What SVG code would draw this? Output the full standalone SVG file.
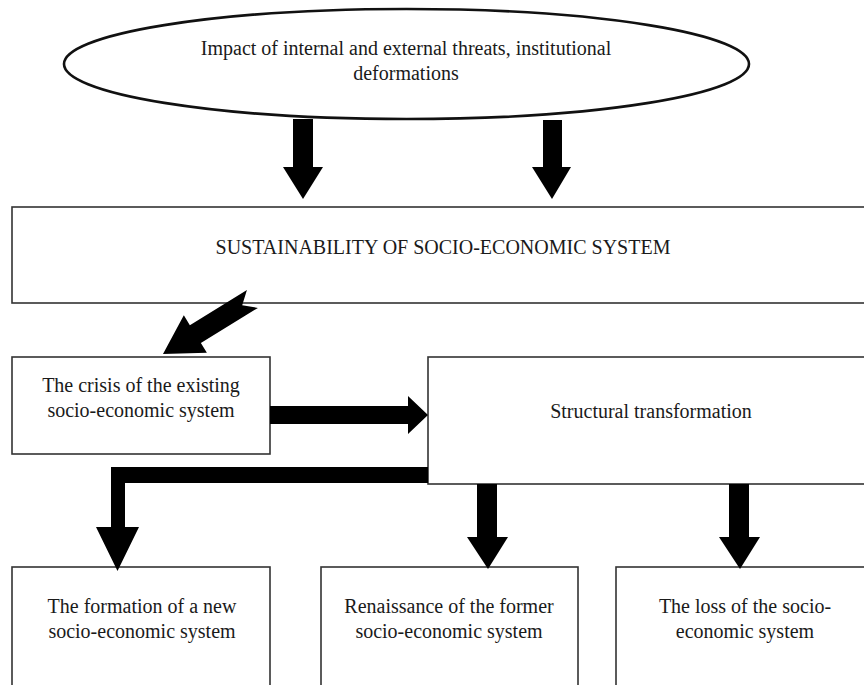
<svg xmlns="http://www.w3.org/2000/svg" width="864" height="685" viewBox="0 0 864 685">
  <style>
    .box { fill: #ffffff; stroke: #333333; stroke-width: 1.6; }
    .oval { fill: #ffffff; stroke: #111111; stroke-width: 2.6; }
    .lbl { font-family: "Liberation Serif", "Times New Roman", serif; font-size: 20px; fill: #1a1a1a; text-anchor: middle; }
    .arrow { fill: #000000; stroke: none; }
  </style>
  <rect width="864" height="685" fill="#ffffff"/>

  <g id="threats">
    <ellipse class="oval" cx="406.5" cy="64" rx="342.5" ry="55"/>
    <text class="lbl" x="406" y="55">Impact of internal and external threats, institutional</text>
    <text class="lbl" x="406" y="80">deformations</text>
  </g>

  <g id="sustainability">
    <rect class="box" x="12" y="207" width="870" height="96"/>
    <text class="lbl" x="443" y="254">SUSTAINABILITY OF SOCIO-ECONOMIC SYSTEM</text>
  </g>

  <g id="crisis">
    <rect class="box" x="12" y="357" width="258" height="97"/>
    <text class="lbl" x="141" y="392">The crisis of the existing</text>
    <text class="lbl" x="141" y="417">socio-economic system</text>
  </g>

  <g id="structural">
    <rect class="box" x="428" y="357" width="454" height="127"/>
    <text class="lbl" x="651" y="418">Structural transformation</text>
  </g>

  <g id="new-system">
    <rect class="box" x="12" y="567" width="258" height="130"/>
    <text class="lbl" x="142" y="613">The formation of a new</text>
    <text class="lbl" x="142" y="638">socio-economic system</text>
  </g>

  <g id="renaissance">
    <rect class="box" x="321" y="567" width="257" height="130"/>
    <text class="lbl" x="449" y="613">Renaissance of the former</text>
    <text class="lbl" x="449" y="638">socio-economic system</text>
  </g>

  <g id="loss">
    <rect class="box" x="616" y="567" width="266" height="130"/>
    <text class="lbl" x="745" y="613">The loss of the socio-</text>
    <text class="lbl" x="745" y="638">economic system</text>
  </g>

  <!-- connectors: thick block arrows, drawn over the box borders -->
  <g id="connectors">
    <!-- threats to sustainability -->
    <polygon class="arrow" points="293,119 313,119 313,167 323,167 303,199 283,167 293,167"/>
    <polygon class="arrow" points="543,120 562,120 562,167 571,167 552,199 532,167 543,167"/>
    <!-- sustainability to crisis (notched, diagonal) -->
    <polygon class="arrow" transform="translate(163,354) rotate(148.4)" points="0,0 -38,-22 -38,-10.5 -105,-10.5 -93,0 -105,10.5 -38,10.5 -38,22"/>
    <!-- crisis to structural transformation -->
    <polygon class="arrow" points="270,406 408,406 408,396 428,415 408,434 408,424 270,424"/>
    <!-- structural transformation to outcomes -->
    <polygon class="arrow" points="428,467 111,467 111,527 96,527 117.5,571 139,527 125,527 125,483 428,483"/>
    <polygon class="arrow" points="477,484 497,484 497,537 508,537 488,569 467,537 477,537"/>
    <polygon class="arrow" points="729,484 749,484 749,537 760,537 740,569 719,537 729,537"/>
  </g>
</svg>
